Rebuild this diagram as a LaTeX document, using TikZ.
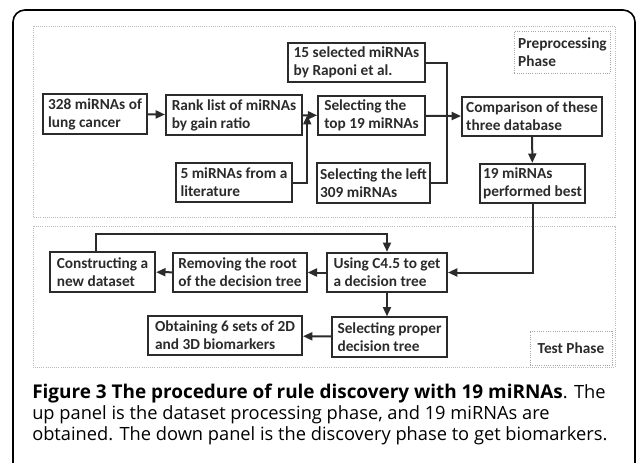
\documentclass[tikz,border=0pt]{standalone}
\usepackage{fontspec}
\setmainfont{Carlito}
\newfontfamily\capfont{Open Sans}
\usetikzlibrary{arrows.meta,calc}
\definecolor{boxline}{HTML}{2B2B2B}

\begin{document}
\begin{tikzpicture}[x=0.75pt,y=-0.75pt,
  box/.style={draw=boxline,line width=1.5pt,text=boxline,font=\bfseries\fontsize{11.5}{13.5}\selectfont,
    align=left,minimum width=#1,inner xsep=2pt,inner ysep=1pt,minimum height=29.5pt},
  phase/.style={draw=gray!70,densely dotted,line width=0.7pt,text=boxline,
    font=\bfseries\fontsize{11.5}{13.5}\selectfont,align=left,inner sep=3pt},
  panel/.style={draw=gray!55,densely dotted,line width=0.6pt},
  flow/.style={draw=boxline,line width=1.5pt,-{Triangle[length=7pt,width=6pt]}},
  link/.style={draw=boxline,line width=1.5pt},
  caption/.style={font=\capfont\fontsize{13.7}{16}\selectfont,inner sep=0pt,anchor=base west}]
\useasboundingbox (0,0) rectangle (637,462);
% outer frame, open at the bottom
\draw[line width=1.2pt,rounded corners=9pt] (13,475) -- (13,10) -- (635,10) -- (635,475);
% the two panels
\draw[panel] (33,26) rectangle (615,217);
\draw[panel] (33,226) rectangle (615,367);

% preprocessing phase
\node[box=78pt] (lung) at (95,114) {328 miRNAs of\\lung cancer};
\node[box=102pt] (rank) at (234,115) {Rank list of miRNAs\\by gain ratio};
\node[box=87pt] (lit) at (234,182.5) {5 miRNAs from a\\literature};
\node[box=103pt] (raponi) at (356.5,62.5) {15 selected miRNAs\\by Raponi et al.};
\node[box=80pt] (top19) at (371.5,115.5) {Selecting the\\top 19 miRNAs};
\node[box=85pt] (left309) at (373.5,183) {Selecting the left\\309 miRNAs};
\node[box=105pt] (comp) at (532,116.5) {Comparison of these\\three database};
\node[box=79pt] (best) at (532.5,183.5) {19 miRNAs\\performed best};
\node[phase,minimum width=72pt,minimum height=31.5pt] (prep) at (562.5,52) {Preprocessing\\Phase};

\coordinate (jn) at ($(rank.east)!0.3!(top19.west)$);
\draw[flow] (lung) -- (rank);
\draw[flow] (rank) -- (top19);
\draw[flow] (lit.east) -| (jn);
\draw[link] (raponi.east) -- ++(21,0) |- (left309.east);
\draw[flow] (top19) -- (comp);
\draw[flow] (comp) -- (best);

% test phase
\node[box=90pt] (c45) at (387,272.5) {Using C4.5 to get\\a decision tree};
\node[box=100pt] (remove) at (240,272.5) {Removing the root\\of the decision tree};
\node[box=79pt] (newdata) at (102.5,272) {Constructing a\\new dataset};
\node[box=86pt] (proper) at (389.5,337) {Selecting proper\\decision tree};
\node[box=115.5pt] (bio) at (225,335.5) {Obtaining 6 sets of 2D\\and 3D biomarkers};
\node[phase,minimum width=61.5pt,minimum height=25.5pt] (test) at (571,348) {Test Phase};

\draw[flow] (best.south) |- (c45.east);
\draw[flow] (c45) -- (remove);
\draw[flow] (remove) -- (newdata);
\draw[flow] ([xshift=-5pt]newdata.north) |- ++(0,-17) -| (c45.north);
\draw[flow] (c45.south) -- (c45.south |- proper.north);
\draw[flow] (proper) -- (bio);

% caption
\node[caption] (cap1) at (32,398) {{\bfseries\fontsize{14.2}{16}\selectfont Figure 3 The procedure of rule discovery with 19 miRNAs}. The};
\node[caption] (cap2) at (32,419) {up panel is the dataset processing phase, and 19 miRNAs are};
\node[caption] (cap3) at (32,440) {obtained. The down panel is the discovery phase to get biomarkers.};
\end{tikzpicture}
\end{document}
